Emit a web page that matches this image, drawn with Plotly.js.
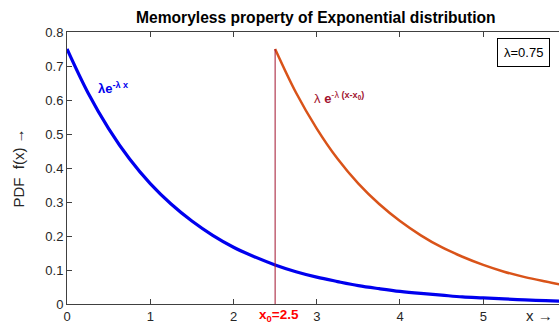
<!DOCTYPE html>
<html><head><meta charset="utf-8">
<script src="https://cdn.plot.ly/plotly-3.0.1.min.js"></script>
<style>body{margin:0;padding:0;background:#fff}#c{width:559px;height:325px}</style>
</head><body><div id="c"></div>
<script>
// f(x) = λ e^{-λx}, λ = 0.75, read at 0.25 steps
var xBlue = [0,0.25,0.5,0.75,1,1.25,1.5,1.75,2,2.25,2.5,2.75,3,3.25,3.5,3.75,4,4.25,4.5,4.75,5,5.25,5.5,5.75,6];
var yBlue = [0.750,0.622,0.516,0.427,0.354,0.294,0.244,0.202,0.167,0.139,0.115,0.095,0.079,0.066,0.054,0.045,0.037,0.031,0.026,0.021,0.018,0.015,0.012,0.010,0.008];
// shifted curve starting at x0 = 2.5
var xOrange = [2.5,2.75,3,3.25,3.5,3.75,4,4.25,4.5,4.75,5,5.25,5.5,5.75,6];
var yOrange = [0.750,0.622,0.516,0.427,0.354,0.294,0.244,0.202,0.167,0.139,0.115,0.095,0.079,0.066,0.054];
var xVert = [2.5,2.5];
var yVert = [0,0.75];
var xTicks = [0,1,2,3,4,5];
var yTicks = [0,0.1,0.2,0.3,0.4,0.5,0.6,0.7,0.8];

var F = 'Liberation Sans, Arial, sans-serif';
var data = [
  {x:xBlue,y:yBlue,mode:'lines',line:{color:'#0000ee',width:3.2,shape:'spline'},hoverinfo:'none'},
  {x:xOrange,y:yOrange,mode:'lines',line:{color:'#D95319',width:2.5,shape:'spline'},hoverinfo:'none'},
  {x:xVert,y:yVert,mode:'lines',line:{color:'#A2142F',width:1},hoverinfo:'none'}
];
var layout = {
  width:559,height:325,
  margin:{l:67,r:0,t:32,b:21},
  paper_bgcolor:'#fff',plot_bgcolor:'#fff',
  showlegend:false,
  font:{family:F,size:13,color:'#262626'},
  title:{text:'<b>Memoryless property of Exponential distribution</b>',font:{family:F,size:15.6,color:'#000'},x:0.565,xanchor:'center',y:0.945,yanchor:'middle'},
  xaxis:{range:[0,5.91],tickvals:xTicks,ticks:'inside',ticklen:5,tickcolor:'#404040',
    showline:true,linecolor:'#404040',linewidth:1,mirror:'ticks',showgrid:false,zeroline:false,
    tickfont:{family:F,size:13,color:'#262626'},fixedrange:true},
  yaxis:{range:[0,0.8],tickvals:yTicks,ticks:'inside',ticklen:5,tickcolor:'#404040',
    showline:true,linecolor:'#404040',linewidth:1,showgrid:false,zeroline:false,
    tickfont:{family:F,size:13,color:'#262626'},
    title:{text:'PDF  f(x) \u2192',font:{family:F,size:15,color:'#262626'},standoff:17},fixedrange:true},
  annotations:[
    {xref:'x',yref:'y',x:0.35,y:0.634,xanchor:'left',yanchor:'middle',showarrow:false,
     text:'<b>\u03bbe<sup>-\u03bb x</sup></b>',font:{family:F,size:13,color:'#0000ee'}},
    {xref:'x',yref:'y',x:2.94,y:0.607,xanchor:'left',yanchor:'middle',showarrow:false,
     text:'\u03bb <b>e</b><sup>-\u03bb <b>(x-x<sub>0</sub>)</b></sup>',font:{family:F,size:13,color:'#A2142F'}},
    {xref:'paper',yref:'paper',x:0.927,y:0.923,xanchor:'center',yanchor:'middle',showarrow:false,
     text:'\u03bb=0.75',font:{family:F,size:13,color:'#000'},bordercolor:'#000',borderwidth:1,borderpad:6,bgcolor:'#fff'},
    {xref:'x',yref:'paper',x:2.5,y:0,xshift:4,yshift:-11,xanchor:'center',yanchor:'middle',showarrow:false,
     text:'<b>x<sub>0</sub>=2.5</b>',font:{family:F,size:13.5,color:'#ff0000'}},
    {xref:'paper',yref:'paper',x:0.961,y:0,yshift:-11,xanchor:'center',yanchor:'middle',showarrow:false,
     text:'x \u2192',font:{family:F,size:15,color:'#262626'}}
  ]
};
Plotly.newPlot('c',data,layout,{displayModeBar:false,staticPlot:true});
</script></body></html>
